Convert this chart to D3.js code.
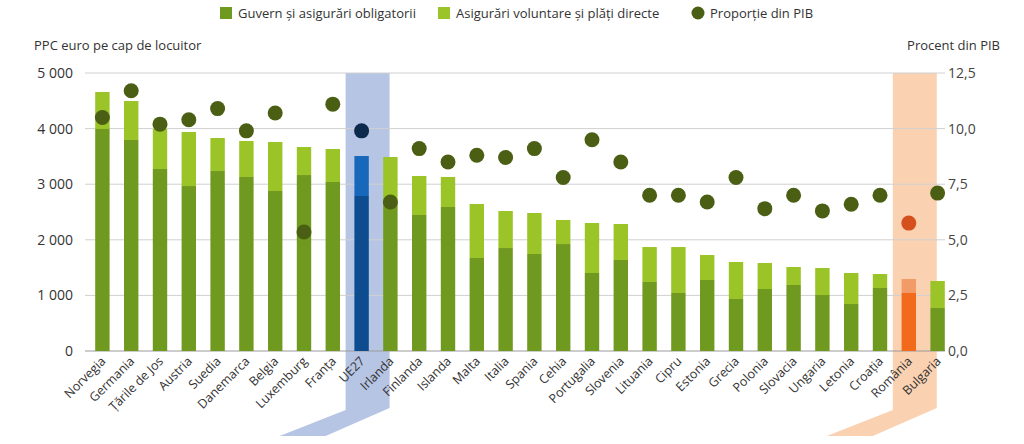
<!DOCTYPE html>
<html><head><meta charset="utf-8">
<script src="https://cdn.jsdelivr.net/npm/d3@7"></script>
<style>body{margin:0;background:#fff;font-family:"Open Sans",sans-serif;}</style>
</head><body><svg id="c" width="1024" height="444"></svg>
<script>
const countries = ["Norvegia","Germania","Țările de Jos","Austria","Suedia","Danemarca","Belgia","Luxemburg","Franța","UE27","Irlanda","Finlanda","Islanda","Malta","Italia","Spania","Cehia","Portugalia","Slovenia","Lituania","Cipru","Estonia","Grecia","Polonia","Slovacia","Ungaria","Letonia","Croația","România","Bulgaria"];
const totalSpend = [4658,4496,3993,3939,3831,3777,3759,3669,3633,3507,3489,3148,3130,2644,2518,2482,2356,2302,2284,1870,1870,1727,1601,1583,1511,1493,1403,1385,1295,1259];
const govSpend = [3993,3795,3273,2967,3237,3130,2878,3165,3040,2788,2700,2446,2590,1673,1852,1745,1924,1403,1637,1241,1043,1277,935,1115,1187,1007,845,1133,1043,773];
const gdpShare = [10.5,11.7,10.2,10.4,10.9,9.9,10.7,5.35,11.1,9.9,6.7,9.1,8.5,8.8,8.7,9.1,7.8,9.5,8.5,7.0,7.0,6.7,7.8,6.4,7.0,6.3,6.6,7.0,5.75,7.1];
const leftTicks = [0,1000,2000,3000,4000,5000];
const rightTicks = [0,2.5,5,7.5,10,12.5];

const svg = d3.select("#c");
const x = d3.scaleBand().domain(countries).range([88,952]).paddingInner(0.5).paddingOuter(0.25);
const y = d3.scaleLinear().domain([0,5000]).range([351,73]);
const y2 = d3.scaleLinear().domain([0,12.5]).range([351,73]);
const fmt = d3.formatLocale({decimal:",",thousands:"\u00a0",grouping:[3],currency:["",""]});

// highlight bands
function band(name, color) {
  const cx = x(name) + x.bandwidth()/2 + 6, w = 44;
  const p = [[cx-w/2,73],[cx+w/2,73],[cx+w/2,408],[cx-w/2-20,436],[cx-w/2-66,436],[cx-w/2,410]];
  svg.append("path").attr("d", d3.line()(p)).attr("fill", color);
}
band("UE27","#b7c5e4");
band("România","#fad2b2");

svg.append("g").selectAll("line").data(leftTicks).join("line")
  .attr("x1",85).attr("x2",945).attr("y1",d=>y(d)).attr("y2",d=>y(d))
  .attr("stroke",d=>d===0?"#9a9a9a":"#d0d0d0").attr("stroke-width",1);

svg.append("g").selectAll("text").data(leftTicks).join("text")
  .attr("x",73).attr("y",d=>y(d)+5).attr("text-anchor","end")
  .attr("font-size",14).attr("fill","#333").text(d=>fmt.format(",d")(d));
svg.append("g").selectAll("text").data(rightTicks).join("text")
  .attr("x",948).attr("y",d=>y2(d)+5).attr("font-size",14).attr("fill","#444")
  .text(d=>fmt.format(".1f")(d));

svg.append("text").attr("x",34).attr("y",50).attr("font-size",13).attr("fill","#333").text("PPC euro pe cap de locuitor");
svg.append("text").attr("x",1000).attr("y",50).attr("text-anchor","end").attr("font-size",13).attr("fill","#333").text("Procent din PIB");

const colGov = n => n==="UE27"?"#0d4c8e":n==="România"?"#f26a1b":"#6f9a1f";
const colVol = n => n==="UE27"?"#1768bb":n==="România"?"#f29a68":"#9bc428";
const colDot = n => n==="UE27"?"#0c2b4c":n==="România"?"#d4501d":"#4a5f14";

const g = svg.append("g");
countries.forEach((c,i) => {
  g.append("rect").attr("x",x(c)).attr("width",x.bandwidth())
    .attr("y",y(totalSpend[i])).attr("height",y(govSpend[i])-y(totalSpend[i])).attr("fill",colVol(c));
  g.append("rect").attr("x",x(c)).attr("width",x.bandwidth())
    .attr("y",y(govSpend[i])).attr("height",y(0)-y(govSpend[i])).attr("fill",colGov(c));
});
countries.forEach((c,i) => {
  g.append("circle").attr("cx",x(c)+x.bandwidth()/2).attr("cy",y2(gdpShare[i])).attr("r",7.5).attr("fill",colDot(c));
});

svg.append("g").selectAll("text").data(countries).join("text")
  .attr("transform",d=>`translate(${x(d)+x.bandwidth()/2+4},${362}) rotate(-45)`)
  .attr("text-anchor","end").attr("font-size",12.5).attr("fill","#333").text(d=>d);

const legend = [["Guvern și asigurări obligatorii","#6f9a1f","rect",220],["Asigurări voluntare și plăți directe","#9bc428","rect",438],["Proporție din PIB","#4a5f14","circle",692]];
legend.forEach(([t,c,s,lx]) => {
  if (s==="rect") svg.append("rect").attr("x",lx).attr("y",7).attr("width",12).attr("height",12).attr("fill",c);
  else svg.append("circle").attr("cx",lx+6).attr("cy",13).attr("r",6.5).attr("fill",c);
  svg.append("text").attr("x",lx+18).attr("y",18).attr("font-size",13).attr("fill","#333").text(t);
});
</script></body></html>
